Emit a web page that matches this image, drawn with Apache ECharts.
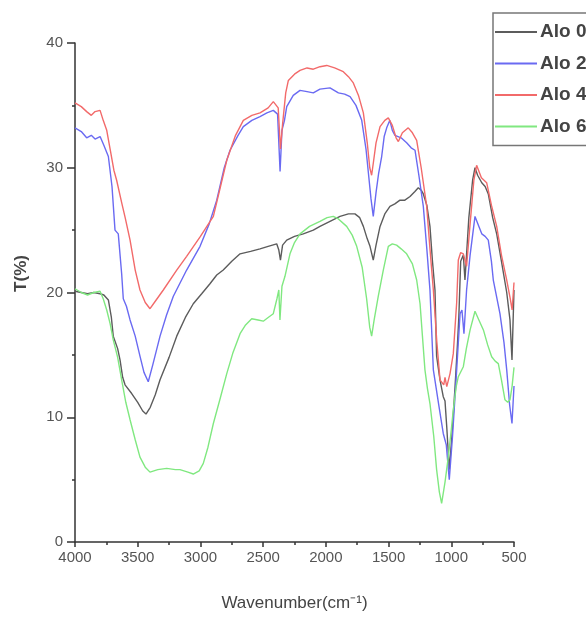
<!DOCTYPE html>
<html>
<head>
<meta charset="utf-8">
<script src="https://cdn.jsdelivr.net/npm/echarts@6/dist/echarts.min.js"></script>
<style>html,body{margin:0;padding:0;background:#fff}#c{width:586px;height:621px}</style>
</head>
<body>
<div id="c"></div>
<script>
const seriesNames = ['Alo 0', 'Alo 2', 'Alo 4', 'Alo 6'];
const xTicks = [4000, 3500, 3000, 2500, 2000, 1500, 1000, 500];
const yTicks = [0, 10, 20, 30, 40];

const alo0Wave = [4000,3950,3900,3850,3800,3770,3734,3710,3695,3660,3641,3620,3601,3548,3500,3460,3434,3400,3360,3322,3250,3189,3120,3057,2990,2924,2870,2818,2750,2684,2600,2525,2460,2392,2375,2362,2345,2312,2250,2180,2100,2047,1967,1887,1820,1768,1730,1701,1670,1648,1622,1600,1568,1530,1489,1450,1409,1370,1329,1290,1263,1240,1223,1195,1170,1150,1130,1117,1090,1064,1050,1036,1016,995,970,950,940,925,904,891,860,830,811,790,757,730,705,670,638,600,558,532,516,500];
const alo0T = [20.1,20.0,19.9,20.0,19.9,19.8,19.4,18.0,16.5,15.5,14.6,13.2,12.6,11.9,11.2,10.5,10.26,10.8,11.8,13.0,14.8,16.5,18.0,19.1,19.9,20.7,21.4,21.8,22.5,23.1,23.3,23.5,23.7,23.9,23.4,22.6,23.8,24.2,24.5,24.7,25.0,25.3,25.7,26.1,26.3,26.3,26.0,25.3,24.3,23.7,22.6,23.8,25.3,26.3,26.9,27.1,27.4,27.4,27.7,28.1,28.4,28.2,27.9,27.0,25.3,22.5,20.2,14.9,13.0,11.65,11.3,9.2,5.8,8.5,12.45,16.0,18.0,22.5,23.0,21.0,26.0,29.0,30.0,29.4,28.8,28.5,27.9,26.0,24.7,22.5,20.0,17.8,14.6,20.2];

const alo2Wave = [4000,3950,3907,3870,3840,3800,3770,3734,3705,3681,3655,3628,3615,3590,3561,3520,3482,3450,3416,3380,3322,3270,3216,3110,3003,2930,2870,2810,2764,2700,2658,2590,2525,2470,2419,2385,2365,2350,2330,2312,2260,2206,2150,2100,2047,1967,1900,1850,1807,1760,1714,1680,1661,1640,1622,1600,1580,1555,1535,1515,1490,1470,1449,1400,1356,1320,1289,1260,1223,1195,1170,1143,1100,1064,1040,1016,990,957,930,915,899,878,850,811,780,757,730,705,680,665,612,580,558,535,516,500];
const alo2T = [33.2,32.9,32.4,32.6,32.3,32.5,31.8,30.9,28.5,25.0,24.7,21.5,19.5,18.9,17.8,16.5,14.9,13.6,12.85,14.2,16.5,18.2,19.7,21.8,23.7,25.5,27.4,30.0,31.4,32.6,33.3,33.8,34.1,34.4,34.6,34.3,29.7,33.0,33.8,34.9,35.8,36.2,36.1,36.0,36.3,36.4,36.0,35.9,35.7,35.0,33.8,31.5,29.6,27.5,26.1,28.0,29.5,30.9,32.5,33.2,33.8,33.0,32.6,32.4,32.0,31.6,31.4,29.5,26.9,23.5,20.2,13.8,11.0,8.7,7.8,5.0,8.5,13.8,18.3,18.6,16.7,20.2,23.0,26.1,25.3,24.7,24.5,24.2,22.5,21.0,18.3,16.0,13.8,11.0,9.5,12.5];

const alo4Wave = [4000,3950,3907,3870,3840,3800,3775,3747,3720,3690,3668,3628,3600,3561,3520,3482,3440,3402,3360,3296,3189,3110,3000,2897,2840,2790,2720,2658,2590,2525,2460,2419,2380,2362,2345,2320,2299,2250,2206,2150,2100,2047,1993,1930,1861,1820,1781,1740,1701,1670,1650,1635,1620,1600,1568,1530,1502,1470,1440,1422,1390,1343,1310,1276,1240,1196,1170,1143,1115,1090,1060,1050,1036,1010,984,957,944,925,904,878,850,820,798,760,718,680,638,600,558,530,515,500];
const alo4T = [35.2,34.9,34.5,34.2,34.5,34.6,33.8,33.0,31.5,29.8,29.0,27.2,26.0,24.2,21.8,20.2,19.2,18.7,19.3,20.2,21.8,22.9,24.5,26.1,28.5,30.6,32.6,33.8,34.2,34.4,34.8,35.3,34.8,31.5,33.5,36.0,37.0,37.5,37.8,38.0,37.9,38.1,38.2,38.0,37.7,37.3,36.8,35.8,34.4,32.0,30.0,29.4,30.5,32.0,33.3,33.8,34.0,33.4,32.4,32.1,32.8,33.2,32.8,32.2,30.0,26.9,23.5,20.2,16.0,13.0,12.6,13.2,12.45,13.5,15.1,19.2,22.6,23.2,23.1,22.1,25.5,29.0,30.2,29.2,28.8,27.0,25.3,23.0,21.0,19.5,18.6,20.8];

const alo6Wave = [4000,3950,3900,3850,3800,3775,3747,3720,3695,3660,3628,3595,3561,3520,3482,3440,3402,3340,3269,3200,3163,3100,3057,3010,2977,2940,2897,2840,2790,2740,2684,2640,2591,2540,2499,2460,2419,2390,2375,2366,2350,2326,2286,2250,2206,2130,2047,1990,1941,1900,1834,1790,1754,1710,1675,1650,1635,1615,1582,1542,1502,1470,1436,1400,1356,1310,1276,1249,1230,1210,1190,1170,1140,1117,1095,1077,1050,1024,1000,984,960,944,904,880,850,811,780,744,710,678,650,625,600,572,550,532,515,500];
const alo6T = [20.3,20.0,19.8,20.0,20.1,19.5,18.6,17.5,16.2,14.8,13.0,11.2,9.8,8.2,6.8,6.0,5.6,5.8,5.9,5.8,5.8,5.6,5.45,5.7,6.3,7.6,9.5,11.6,13.5,15.2,16.7,17.4,17.9,17.8,17.7,18.0,18.3,19.5,20.2,17.8,20.5,21.3,23.1,24.0,24.7,25.3,25.7,26.0,26.1,25.9,25.3,24.6,23.7,22.0,19.5,17.2,16.5,17.8,19.7,21.8,23.7,23.9,23.8,23.5,23.1,22.3,21.0,19.1,16.5,13.8,12.3,11.1,8.5,5.8,4.0,3.1,4.8,6.8,9.0,10.6,12.5,13.25,14.05,15.5,17.0,18.5,17.8,17.0,15.8,14.85,14.5,14.3,13.0,11.4,11.2,11.4,12.5,14.0];

const colors = ['#5c5c5c', '#6a6af2', '#f26a6a', '#80e880'];
const waves = [alo0Wave, alo2Wave, alo4Wave, alo6Wave];
const values = [alo0T, alo2T, alo4T, alo6T];

const chart = echarts.init(document.getElementById('c'), null, {renderer: 'canvas'});
const font = 'Liberation Sans Narrow, Liberation Sans, Arial, sans-serif';
const font2 = 'Liberation Sans, Arial, sans-serif';
chart.setOption({
  animation: false,
  backgroundColor: '#fff',
  color: colors,
  grid: {left: 75, right: 72, top: 43, bottom: 79},
  legend: {
    data: seriesNames,
    orient: 'vertical',
    left: 493,
    top: 13,
    padding: [9, 40, 9, 1],
    borderColor: '#777',
    borderWidth: 1.5,
    itemWidth: 42,
    itemHeight: 14,
    itemGap: 11.5,
    itemStyle: {opacity: 0},
    textStyle: {fontSize: 19, fontWeight: 'bold', color: '#444', fontFamily: font, lineHeight: 20, padding: [0, 0, 0, -2]}
  },
  xAxis: {
    type: 'value',
    inverse: true,
    min: xTicks[xTicks.length - 1],
    max: xTicks[0],
    interval: 500,
    name: 'Wavenumber(cm\u207B\u00B9)',
    nameLocation: 'middle',
    nameGap: 53,
    nameTextStyle: {fontSize: 17, color: '#444', fontFamily: font2},
    axisLine: {lineStyle: {color: '#333', width: 1.5}},
    axisTick: {length: 5, lineStyle: {color: '#333', width: 1.5}},
    minorTick: {show: true, splitNumber: 2, length: 3, lineStyle: {color: '#333', width: 1.5}},
    axisLabel: {fontSize: 15, color: '#555', fontFamily: font2, margin: 8, formatter: v => String(v)},
    splitLine: {show: false}
  },
  yAxis: {
    type: 'value',
    min: yTicks[0],
    max: yTicks[yTicks.length - 1],
    interval: 10,
    name: 'T(%)',
    nameLocation: 'middle',
    nameRotate: 90,
    nameGap: 45,
    nameTextStyle: {fontSize: 17, fontWeight: 'bold', color: '#444', fontFamily: font2, padding: [0, 0, 0, 38]},
    axisLine: {show: true, lineStyle: {color: '#333', width: 1.5}},
    axisTick: {show: true, length: 8, lineStyle: {color: '#333', width: 1.5}},
    minorTick: {show: true, splitNumber: 2, length: 3, lineStyle: {color: '#333', width: 1.5}},
    axisLabel: {fontSize: 15, color: '#555', fontFamily: font2, margin: 12, formatter: v => String(v)},
    splitLine: {show: false}
  },
  series: seriesNames.map((name, i) => ({
    name: name,
    type: 'line',
    symbol: 'none',
    showSymbol: false,
    lineStyle: {width: 1.4, color: colors[i]},
    itemStyle: {color: colors[i]},
    data: waves[i].map((w, j) => [w, values[i][j]])
  }))
});
</script>
</body>
</html>
